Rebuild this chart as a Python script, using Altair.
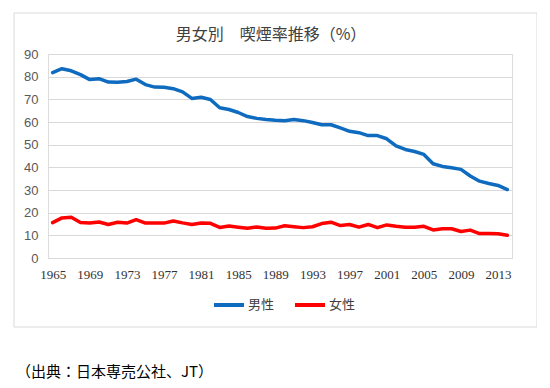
import altair as alt
import pandas as pd

years = list(range(1965, 2015))
male = [81.8, 83.5, 82.6, 80.9, 78.7, 79.1, 77.6, 77.5, 77.9, 78.9,
        76.5, 75.4, 75.3, 74.7, 73.3, 70.4, 70.9, 69.9, 66.3, 65.5,
        64.2, 62.4, 61.6, 61.1, 60.8, 60.6, 61.1, 60.6, 59.8, 58.8,
        58.8, 57.4, 55.9, 55.3, 54.0, 54.0, 52.6, 49.5, 47.9, 47.0,
        45.7, 41.6, 40.4, 39.8, 39.1, 36.2, 33.9, 32.9, 32.0, 30.2]
female = [15.6, 17.7, 18.0, 15.7, 15.4, 15.9, 14.8, 15.8, 15.4, 16.9,
          15.4, 15.4, 15.4, 16.3, 15.5, 14.8, 15.4, 15.3, 13.5, 14.1,
          13.6, 13.1, 13.7, 13.1, 13.2, 14.2, 13.8, 13.4, 13.8, 15.2,
          15.8, 14.3, 14.8, 13.6, 14.8, 13.4, 14.6, 14.0, 13.6, 13.6,
          14.0, 12.4, 12.9, 12.9, 11.7, 12.3, 10.8, 10.8, 10.7, 10.0]
series_names = ["男性", "女性"]
series_colors = ["#0E6BBF", "#FF0000"]
x_tick_labels = list(range(1965, 2014, 4))
y_ticks = list(range(0, 91, 10))
title_text = "男女別　喫煙率推移（%）"
source_text = "（出典：日本専売公社、JT）"

rows = []
for yr, m, f in zip(years, male, female):
    rows.append({"year": yr, "series": series_names[0], "rate": m})
    rows.append({"year": yr, "series": series_names[1], "rate": f})
df = pd.DataFrame(rows)

CJK = "Noto Sans CJK JP"

border = alt.Chart(pd.DataFrame({"d": [0]})).mark_rect(
    fillOpacity=0, stroke="#D9D9D9", strokeWidth=1
).encode(
    x=alt.value(-34), x2=alt.value(489), y=alt.value(-41), y2=alt.value(273)
)

lines = alt.Chart(df).mark_line(strokeWidth=3.5, strokeCap="round", strokeJoin="round").encode(
    x=alt.X("year:Q",
            scale=alt.Scale(domain=[1964.5, 2014.5], nice=False, zero=False),
            axis=alt.Axis(values=x_tick_labels, format="d", title=None, grid=False,
                          ticks=False, domain=True, domainColor="#D9D9D9",
                          labelFont="Liberation Serif", labelFontSize=13,
                          labelColor="#333333", labelPadding=10, labelOverlap=False)),
    y=alt.Y("rate:Q",
            scale=alt.Scale(domain=[0, 90], nice=False),
            axis=alt.Axis(values=y_ticks, title=None, grid=True, gridColor="#D9D9D9",
                          ticks=False, domain=False, labelFont="Liberation Sans",
                          labelFontSize=13, labelColor="#595959", labelPadding=10)),
    color=alt.Color("series:N", sort=series_names,
                    scale=alt.Scale(domain=series_names, range=series_colors),
                    legend=alt.Legend(orient="none", legendX=164, legendY=234,
                                      direction="horizontal", title=None,
                                      symbolType="stroke", symbolSize=900,
                                      symbolStrokeWidth=4, labelFont=CJK,
                                      labelFontSize=13, labelColor="#404040",
                                      labelOffset=2, columnPadding=12)),
)

footer = alt.Chart(pd.DataFrame({"t": [source_text]})).mark_text(
    align="left", baseline="middle", fontSize=15, font=CJK, color="#000000"
).encode(x=alt.value(-32), y=alt.value(318), text="t:N")

chart = alt.layer(border, lines, footer).properties(
    width=464, height=204,
    title=alt.Title(title_text, fontSize=16, font=CJK, fontWeight="normal",
                    color="#404040", anchor="middle", offset=-30, dx=-9),
    padding={"left": 40, "top": 46, "right": 25, "bottom": 122},
    autosize=alt.AutoSizeParams(type="none"),
).configure_view(stroke=None).configure(background="white")

chart.save("out.html", embed_options={"renderer": "svg", "actions": False})
